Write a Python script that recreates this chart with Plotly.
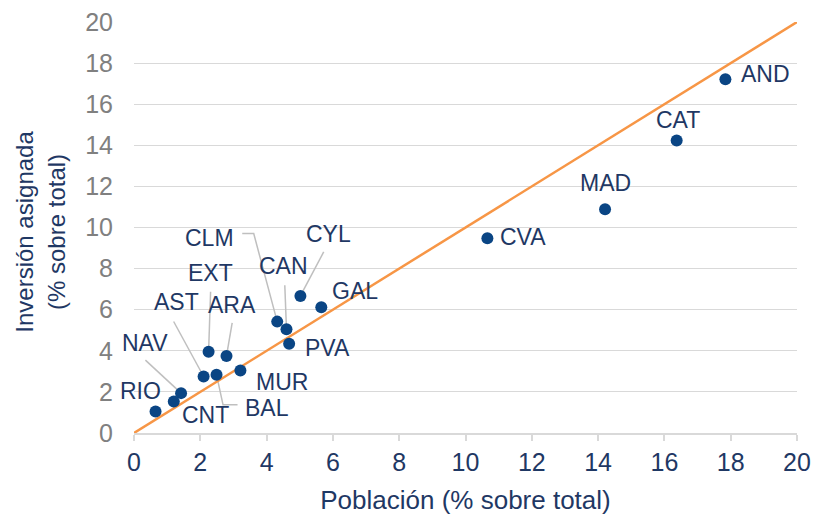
import plotly.graph_objects as go

# ---- data ----
regions = ["AND", "CAT", "MAD", "CVA", "GAL", "CYL", "CLM", "CAN", "PVA",
           "EXT", "ARA", "MUR", "AST", "BAL", "NAV", "CNT", "RIO"]
poblacion = [17.84, 16.37, 14.21, 10.66, 5.65, 5.02, 4.32, 4.60, 4.68,
             2.25, 2.79, 3.21, 2.10, 2.49, 1.42, 1.20, 0.65]
inversion = [17.21, 14.23, 10.89, 9.48, 6.12, 6.67, 5.42, 5.05, 4.34,
             3.95, 3.75, 3.04, 2.75, 2.83, 1.94, 1.53, 1.05]
tick_vals = [0, 2, 4, 6, 8, 10, 12, 14, 16, 18, 20]
ref_line = [0, 20]

# ---- layout constants ----
W, H = 814, 516
ML, MR, MT, MB = 133.5, 17, 22, 83
XMAX, YMAX = 20, 20
px_x = (W - ML - MR) / XMAX
px_y = (H - MT - MB) / YMAX

# label offsets (pixels, screen: +x right, +y down) relative to point
label_off = {
    "AND": (40, -5), "CAT": (1, -21), "MAD": (0, -26), "CVA": (36, -1),
    "GAL": (34, -16), "CYL": (28, -62), "CAN": (-3, -63), "CLM": (-68, -84),
    "EXT": (2, -79), "ARA": (6, -51), "AST": (-27, -74), "NAV": (-36, -50),
    "RIO": (-15, -20), "CNT": (32, 13), "BAL": (50, 33), "MUR": (42, 11),
    "PVA": (38, 4),
}
# leader polylines (pixel offsets relative to point)
leaders = {
    "CLM": [(-35, -88), (-23.5, -88), (0, 0)],
    "CAN": [(-1.7, -44), (0, 0)],
    "CYL": [(23.3, -44), (0, 0)],
    "EXT": [(2, -60), (0, 0)],
    "ARA": [(5.7, -33), (0, 0)],
    "AST": [(-30, -55), (0, 0)],
    "NAV": [(-35.7, -33), (0, 0)],
    "BAL": [(0, 0), (6.5, 30), (21, 30)],
}

NAVY = "#1F3864"
DOT = "#0A4584"
GREY_TXT = "#808080"
GRID = "#D9D9D9"
LEADER = "#BFBFBF"
ORANGE = "#F79646"
FONT = "Liberation Sans, Arial, sans-serif"

fig = go.Figure()

# leader lines
for name, pts in leaders.items():
    i = regions.index(name)
    xs = [poblacion[i] + dx / px_x for dx, dy in pts]
    ys = [inversion[i] - dy / px_y for dx, dy in pts]
    fig.add_trace(go.Scatter(x=xs, y=ys, mode="lines",
                             line=dict(color=LEADER, width=1.5),
                             hoverinfo="skip", showlegend=False, cliponaxis=False))

# diagonal reference
fig.add_trace(go.Scatter(x=ref_line, y=ref_line, mode="lines",
                         line=dict(color=ORANGE, width=2.5),
                         hoverinfo="skip", showlegend=False, cliponaxis=False))

# points
fig.add_trace(go.Scatter(x=poblacion, y=inversion, mode="markers",
                         marker=dict(color=DOT, size=12),
                         text=regions, showlegend=False))

# labels
for name, xv, yv in zip(regions, poblacion, inversion):
    dx, dy = label_off[name]
    fig.add_annotation(x=xv, y=yv, xref="x", yref="y", text=name,
                       showarrow=False, xshift=dx, yshift=-dy,
                       font=dict(family=FONT, size=23, color=NAVY))

# y axis title
fig.add_annotation(x=-94 / (W - ML - MR), y=0.49, xref="paper", yref="paper",
                   text="Inversión asignada<br>(% sobre total)",
                   textangle=-90, showarrow=False, xanchor="center", yanchor="middle",
                   font=dict(family=FONT, size=24, color=NAVY))

fig.update_layout(
    width=W, height=H,
    margin=dict(l=ML, r=MR, t=MT, b=MB, autoexpand=False),
    paper_bgcolor="white", plot_bgcolor="white",
    font=dict(family=FONT),
    xaxis=dict(range=[0, XMAX], tickvals=tick_vals, showgrid=False, automargin=False,
               showline=True, linecolor=GRID, linewidth=1.5,
               ticks="outside", ticklen=6, tickcolor=GRID, tickwidth=1.5,
               tickfont=dict(size=25, color=NAVY), zeroline=False,
               title=dict(text="Población (% sobre total)",
                          font=dict(size=26, color=NAVY), standoff=16)),
    yaxis=dict(range=[0, YMAX], tickvals=tick_vals, showgrid=True, automargin=False,
               gridcolor=GRID, gridwidth=1.2, zeroline=False, showline=False,
               ticks="", ticklabelstandoff=20,
               tickfont=dict(size=25, color=GREY_TXT)),
)

fig.write_html("out.html", config={"displayModeBar": False},
               post_script="document.body.style.margin='0';document.body.style.overflow='hidden';")
